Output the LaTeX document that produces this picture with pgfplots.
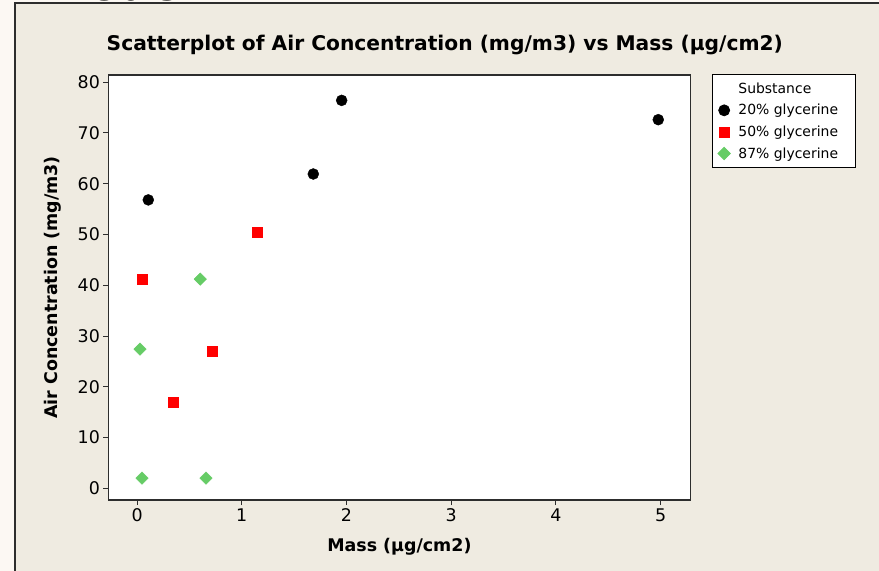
\documentclass[border=0pt]{standalone}
\usepackage{pgfplots}
\pgfplotsset{compat=1.18}
\usepackage{fontspec}
\setmainfont{DejaVu Sans}
\definecolor{panel}{RGB}{239,235,225}
\definecolor{strip}{RGB}{252,248,243}
\definecolor{mgreen}{RGB}{102,204,102}
\definecolor{frame}{RGB}{45,45,45}
\begin{document}
\begin{tikzpicture}
\useasboundingbox (0bp,0bp) rectangle (879bp,571bp);
\fill[strip] (0bp,0bp) rectangle (879bp,571bp);
\fill[panel] (15bp,0bp) rectangle (879bp,568bp);
\node[anchor=base west, font=\bfseries\fontsize{44}{44}\selectfont, inner sep=0] at (58bp,570bp) {Vouch};
\draw[line width=1.3bp, frame] (15bp,0bp) -- (15bp,568bp) -- (879bp,568bp);
\begin{axis}[
  at={(108.4bp,71bp)}, anchor=south west,
  scale only axis, width=582bp, height=425bp,
  xmin=-0.274, xmax=5.285, ymin=-2.3, ymax=81.4,
  axis background/.style={fill=white},
  axis line style={line width=1.3bp, frame},
  tick align=outside, xtick pos=bottom, ytick pos=left,
  xtick={0,1,2,3,4,5}, ytick={0,10,20,30,40,50,60,70,80},
  major tick length=5bp,
  tick style={line width=0.9bp, frame},
  ticklabel style={font=\fontsize{17.5}{17.5}\selectfont},
  /pgf/number format/assume math mode=true,
  title={\bfseries Scatterplot of Air Concentration (mg/m3) vs Mass (µg/cm2)},
  title style={at={(axis description cs:0.578,1.0565)}, anchor=center, font=\fontsize{20.3}{20.3}\selectfont},
  xlabel={\bfseries Mass (µg/cm2)},
  xlabel style={at={(axis description cs:0.5,-0.1106)}, anchor=center, font=\fontsize{17.5}{17.5}\selectfont},
  ylabel={\bfseries Air Concentration (mg/m3)},
  ylabel style={at={(axis description cs:-0.0952,0.5)}, anchor=center, font=\fontsize{17.5}{17.5}\selectfont},
  legend style={at={(1.0376,1.0016)}, anchor=north west, draw=black, line width=0.8bp, fill=white,
    font=\fontsize{14}{15}\selectfont, row sep=5.5bp, inner ysep=6bp, column sep=6bp},
  legend cell align=left,
]
\addlegendimage{empty legend}
\addlegendentry{Substance\hspace*{12bp}}
\addplot[only marks, mark=*, mark size=5.5bp, black] coordinates {
 (0.107,56.8) (1.683,61.9) (1.954,76.4) (4.978,72.6)};
\addlegendentry{20\% glycerine\hspace*{12bp}}
\addplot[only marks, mark=square*, mark size=5bp, red] coordinates {
 (1.148,50.4) (0.047,41.2) (0.718,27.0) (0.346,16.9)};
\addlegendentry{50\% glycerine\hspace*{12bp}}
\addplot[only marks, mark=square*, mark size=4.4bp, mgreen, mark options={rotate=45}] coordinates {
 (0.028,27.4) (0.604,41.2) (0.047,2.0) (0.658,2.0)};
\addlegendentry{87\% glycerine\hspace*{12bp}}
\end{axis}
\end{tikzpicture}
\end{document}
